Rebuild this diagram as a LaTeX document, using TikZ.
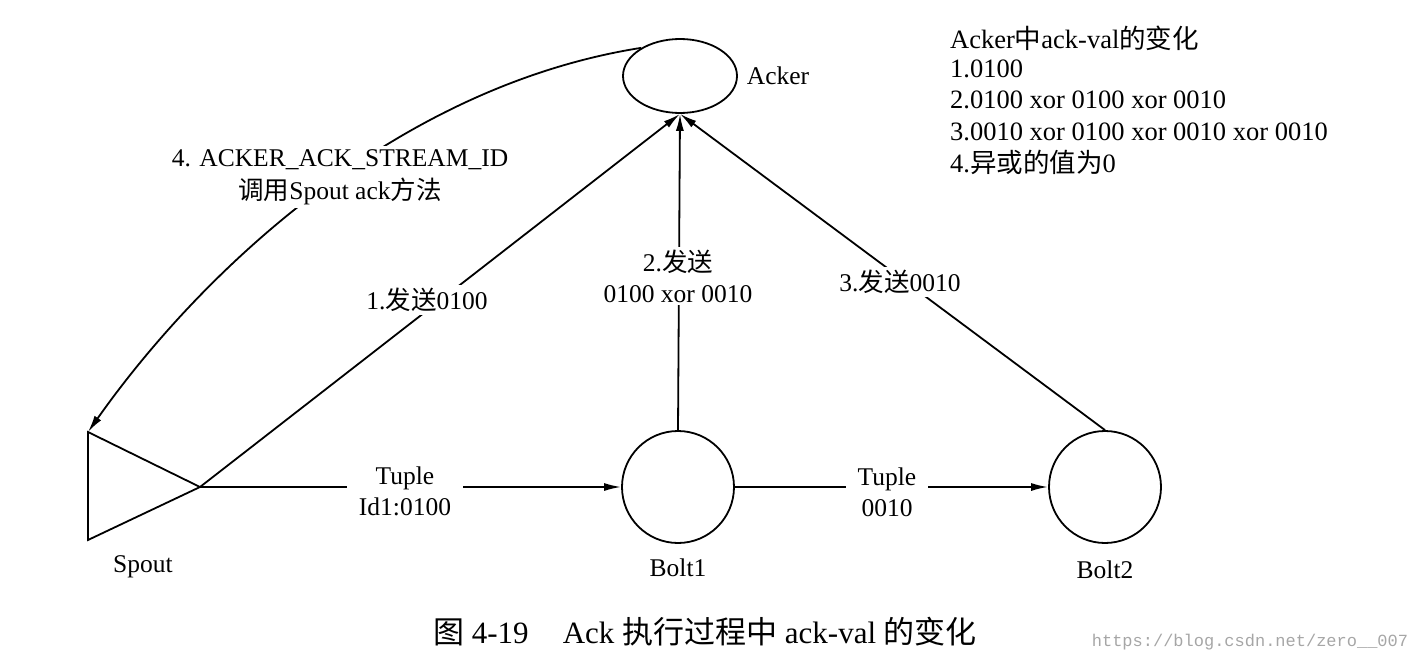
\documentclass[tikz,border=0pt]{standalone}
\usepackage{fontspec}
\setmainfont{Liberation Serif}
\newfontfamily\zhfont{Noto Sans CJK SC}
\newfontfamily\wmfont{Liberation Mono}
\newcommand{\zh}[1]{{\zhfont #1}}
\usetikzlibrary{shapes.geometric,arrows.meta}
\begin{document}
\begin{tikzpicture}[x=1pt,y=-1pt,
  every node/.style={font=\fontsize{25.5}{31}\selectfont},
  conn/.style={line width=1.8pt},
  arr/.style={conn,-{Latex[length=17pt,width=8pt]}},
  lbl/.style={fill=white,inner xsep=12pt,inner ysep=3pt,align=center},
  shapebox/.style={draw,line width=1.8pt,inner sep=0pt},
  note/.style={anchor=base west,inner sep=0pt,font=\fontsize{26.5}{31}\selectfont}]
\useasboundingbox (0,0) rectangle (1418,666);
% shapes
\node[shapebox,ellipse,minimum width=114pt,minimum height=74pt] (acker) at (680,76) {};
\node[shapebox,circle,minimum size=112pt] (b1) at (678,487) {};
\node[shapebox,circle,minimum size=112pt] (b2) at (1105,487) {};
\coordinate (spA) at (88,432);
\coordinate (spB) at (88,540);
\coordinate (spT) at (200,487);
\draw[conn,line join=miter] (spA) -- (spB) -- (spT) -- cycle;
% connectors
\draw[arr] (spT) -- (b1.west);
\draw[arr] (b1.east) -- (b2.west);
\draw[arr] (spT) -- (acker.south);
\draw[arr] (b1.north) -- (acker.south);
\draw[arr] (b2.north) -- (acker.south);
\draw[arr] (acker.144) .. controls (393,87) and (198,276) .. (spA);
% connector labels
\node[lbl] (l1) at (427,300) {1.\zh{发送}0100};
\node[lbl] (l2) at (678,276) {2.\zh{发送}\\0100 xor 0010};
\node[lbl] (l3) at (900,282) {3.\zh{发送}0010};
\node[lbl] (lt1) at (405,491) {Tuple\\Id1:0100};
\node[lbl] (lt2) at (887,492) {Tuple\\0010};
\node[lbl,font=\fontsize{25.5}{33}\selectfont] (l4) at (340,177) {4. ACKER\_ACK\_STREAM\_ID\\\zh{调用}Spout ack\zh{方法}};
% node names
\node (nacker) at (778,76) {Acker};
\node (nspout) at (143,567) {Spout};
\node (nb1) at (678,568) {Bolt1};
\node (nb2) at (1105,570) {Bolt2};
% notes
\node[note] (n1) at (950,49) {Acker\zh{中}ack-val\zh{的变化}};
\node[note] (n2) at (950,78) {1.0100};
\node[note] (n3) at (950,109) {2.0100 xor 0100 xor 0010};
\node[note] (n4) at (950,140) {3.0010 xor 0100 xor 0010 xor 0010};
\node[note] (n5) at (950,172) {4.\zh{异或的值为}0};
% caption
\node[font=\fontsize{31}{35}\selectfont] (cap) at (705,632) {\zh{图} 4-19\hspace{1.1em}Ack \zh{执行过程中} ack-val \zh{的变化}};
\node[font=\wmfont\fontsize{17}{20}\selectfont,text=black!35] (wm) at (1250,642) {https://blog.csdn.net/zero\_\_007};
\end{tikzpicture}
\end{document}
